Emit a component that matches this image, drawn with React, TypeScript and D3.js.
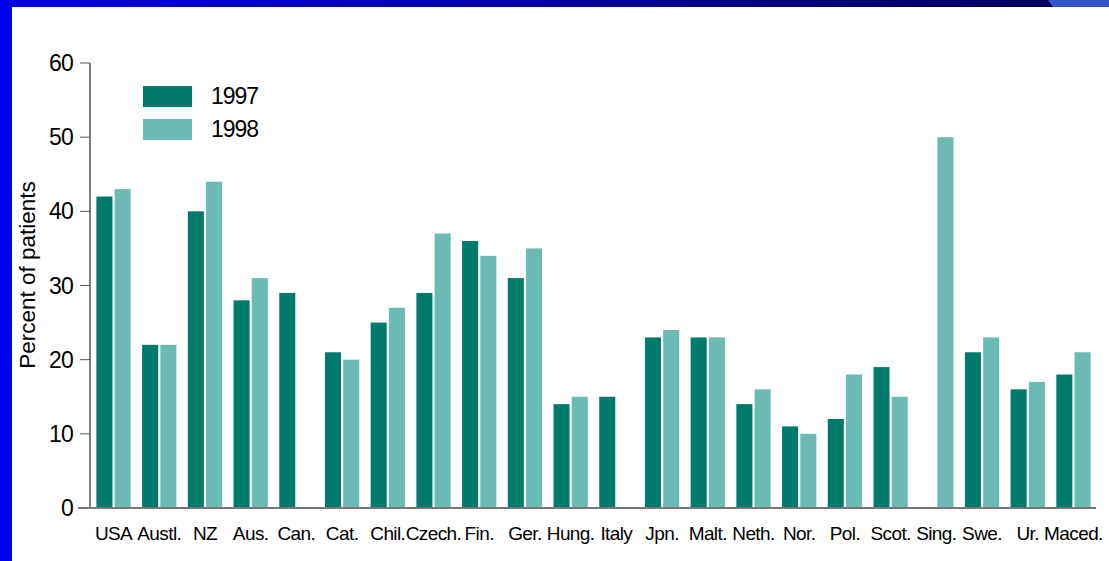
import * as d3 from 'd3';
import React, { useEffect, useRef } from 'react';

const countries = ['USA', 'Austl.', 'NZ', 'Aus.', 'Can.', 'Cat.', 'Chil.', 'Czech.', 'Fin.', 'Ger.', 'Hung.', 'Italy',
    'Jpn.', 'Malt.', 'Neth.', 'Nor.', 'Pol.', 'Scot.', 'Sing.', 'Swe.', 'Ur.', 'Maced.'];
const values1997 = [42, 22, 40, 28, 29, 21, 25, 29, 36, 31, 14, 15, 23, 23, 14, 11, 12, 19, null, 21, 16, 18];
const values1998 = [43, 22, 44, 31, null, 20, 27, 37, 34, 35, 15, null, 24, 23, 16, 10, 18, 15, 50, 23, 17, 21];
const seriesNames = ['1997', '1998'];
const yTicks = [0, 10, 20, 30, 40, 50, 60];

const COLORS = ['#007b6b', '#6bbbb4'];
const FONT = '"Liberation Sans", Arial, sans-serif';

/**
 * Grouped bar chart, slide style.
 */
export default function App() {
    const ref = useRef<SVGSVGElement>(null);

    useEffect(() => {
        const svg = d3.select(ref.current);

        svg.selectAll('*').remove();

        const width = 1109;
        const height = 561;

        // slide frame
        const grad = svg.append('defs')
            .append('linearGradient')
            .attr('id', 'band')
            .attr('x1', '0%')
            .attr('x2', '100%');

        grad.append('stop').attr('offset', '0%').attr('stop-color', '#0000ee');
        grad.append('stop').attr('offset', '100%').attr('stop-color', '#00005e');

        svg.append('rect').attr('width', width).attr('height', height).attr('fill', '#fff');
        svg.append('rect').attr('x', 0).attr('y', 0).attr('width', 1060).attr('height', 7).attr('fill', 'url(#band)');
        svg.append('path').attr('d', 'M1048,0 L1109,0 L1109,7 L1053,7 Z').attr('fill', '#3355cc');
        svg.append('rect').attr('x', 0).attr('y', 0).attr('width', 12).attr('height', height).attr('fill', '#0000ee');

        const x = d3.scaleBand()
            .domain(countries)
            .range([ 90, 1097 ])
            .paddingInner(0.25)
            .paddingOuter(0.14);
        const x1 = d3.scaleBand()
            .domain(seriesNames)
            .range([ 0, x.bandwidth() ])
            .paddingInner(0.12);
        const y = d3.scaleLinear()
            .domain([ 0, 60 ])
            .range([ 508, 63 ]);

        const series = [ values1997, values1998 ];

        series.forEach((vals, s) => {
            svg.append('g')
                .selectAll('rect')
                .data(vals.map((v, i) => ({ c: countries[i], v })).filter(d => d.v !== null))
                .enter()
                .append('rect')
                .attr('x', d => x(d.c) + x1(seriesNames[s]))
                .attr('y', d => y(d.v))
                .attr('width', x1.bandwidth())
                .attr('height', d => y(0) - y(d.v))
                .attr('fill', COLORS[s]);
        });

        // y axis
        svg.append('line')
            .attr('x1', 90).attr('x2', 90)
            .attr('y1', y(60)).attr('y2', y(0))
            .attr('stroke', '#000').attr('stroke-width', 1);

        const yt = svg.append('g').selectAll('g').data(yTicks).enter().append('g');

        yt.append('line')
            .attr('x1', 80).attr('x2', 90)
            .attr('y1', d => y(d)).attr('y2', d => y(d))
            .attr('stroke', '#555');
        yt.append('text')
            .attr('x', 73)
            .attr('y', d => y(d) + 8)
            .attr('text-anchor', 'end')
            .attr('font-family', FONT)
            .attr('font-size', 23)
            .attr('letter-spacing', -0.8)
            .text(d => d);

        // baseline
        svg.append('line')
            .attr('x1', 78).attr('x2', 1096)
            .attr('y1', y(0)).attr('y2', y(0))
            .attr('stroke', '#777').attr('stroke-width', 2);

        svg.append('g').selectAll('text')
            .data(countries)
            .enter()
            .append('text')
            .attr('x', d => x(d) + x.bandwidth() / 2)
            .attr('y', 540)
            .attr('text-anchor', 'middle')
            .attr('font-family', FONT)
            .attr('font-size', 19)
            .attr('letter-spacing', -0.6)
            .text(d => d);

        svg.append('text')
            .attr('transform', 'translate(35, 275) rotate(-90)')
            .attr('text-anchor', 'middle')
            .attr('font-family', FONT)
            .attr('font-size', 22.5)
            .text('Percent of patients');

        // legend
        const lg = svg.append('g').selectAll('g').data(seriesNames).enter().append('g')
            .attr('transform', (_, i) => `translate(143, ${86 + i * 33})`);

        lg.append('rect').attr('width', 49).attr('height', 21).attr('fill', (_, i) => COLORS[i]);
        lg.append('text')
            .attr('x', 68).attr('y', 18)
            .attr('font-family', FONT)
            .attr('font-size', 23)
            .attr('letter-spacing', -1)
            .text(d => d);
    }, []);

    return (
        <svg ref={ref} width={1109} height={561}
            style={{ position: 'absolute', left: 0, top: 0, display: 'block' }} />
    );
}
